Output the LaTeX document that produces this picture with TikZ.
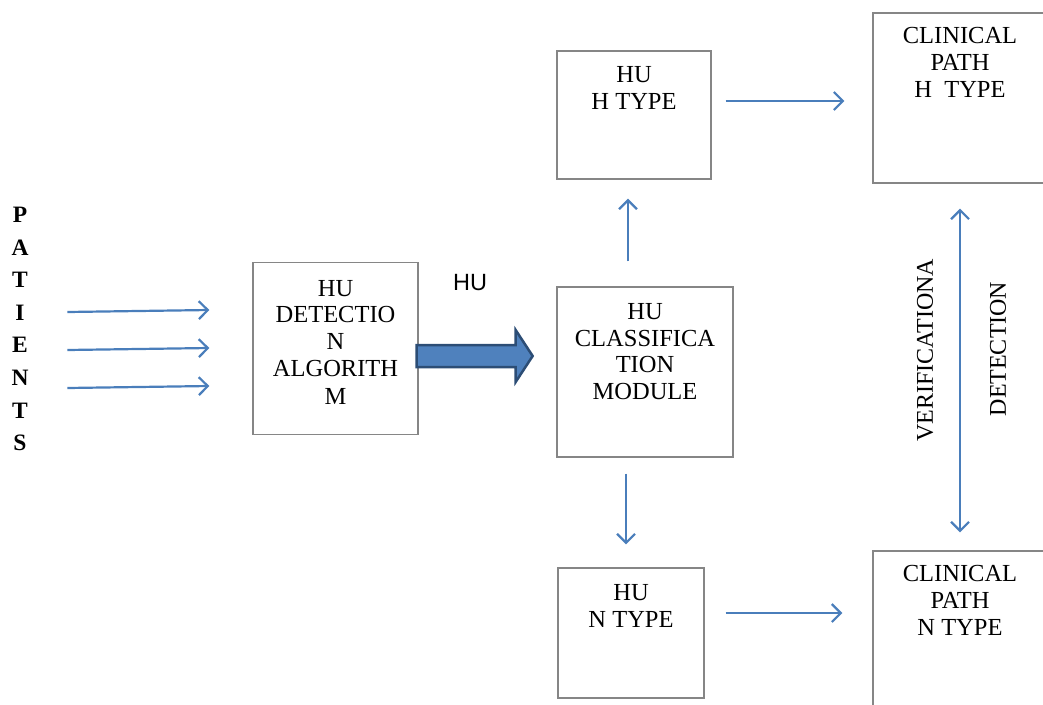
\documentclass[tikz,border=0pt]{standalone}
\usepackage{fontspec}
\setmainfont{Liberation Serif}
\newfontfamily\arialfont{Liberation Sans}
\usetikzlibrary{arrows.meta,calc}
\definecolor{flowblue}{HTML}{4A7EBB}
\definecolor{bigblue}{HTML}{4F81BD}
\definecolor{bigedge}{HTML}{2C4D75}

\begin{document}
\begin{tikzpicture}[x=1pt,y=-1pt,
	>={Straight Barb[length=9pt,width=18pt]},
	box/.style={draw=gray!95,line width=1.3pt,rectangle,inner sep=0},
	boxtext/.style={anchor=north,inner sep=0,align=center,font=\fontsize{24.5}{26.7}\selectfont},
	flow/.style={draw=flowblue,line width=2.2pt},
	bigarrow/.style={fill=bigblue,draw=bigedge,line width=2.5pt,line join=miter}]
\useasboundingbox (0,0) rectangle (1043,704);
\clip (0,0) rectangle (1043,704);

% boxes
\node[box,minimum width=165pt,minimum height=172pt] (det) at (335.5,348.5) {};
\node[box,minimum width=176pt,minimum height=170pt] (cls) at (645,372) {};
\node[box,minimum width=154pt,minimum height=128pt] (htype) at (634,115) {};
\node[box,minimum width=146pt,minimum height=130pt] (ntype) at (631,633) {};
\node[box,minimum width=174pt,minimum height=170pt] (clinh) at (960,98) {};
\node[box,minimum width=174pt,minimum height=178pt] (clinn) at (960,640) {};

\node[boxtext] (det-txt) at ([yshift=-18pt]det.north) {HU\\DETECTIO\\N\\ALGORITH\\[2pt]M};
\node[boxtext] (cls-txt) at ([yshift=-17pt]cls.north) {HU\\CLASSIFICA\\TION\\MODULE};
\node[boxtext] (htype-txt) at ([yshift=-16pt]htype.north) {HU\\H TYPE};
\node[boxtext] (ntype-txt) at ([yshift=-17pt]ntype.north) {HU\\N TYPE};
\node[boxtext] (clinh-txt) at ([yshift=-15pt]clinh.north) {CLINICAL\\PATH\\H\ \ TYPE};
\node[boxtext] (clinn-txt) at ([yshift=-15pt]clinn.north) {CLINICAL\\PATH\\N TYPE};

\node[align=center,inner sep=0,font=\fontsize{23.5}{32.6}\selectfont\bfseries] (pat) at (20,329) {P\\A\\T\\I\\E\\N\\T\\S};
\node[inner sep=0,font=\arialfont\fontsize{23.5}{26}\selectfont] (hu) at (470,283) {HU};
\node[rotate=90,inner sep=0,font=\fontsize{24}{26}\selectfont] (verif) at (925,350) {VERIFICATIONA};
\node[rotate=90,inner sep=0,font=\fontsize{24}{26}\selectfont] (detect) at (998,349) {DETECTION};

% arrows
\foreach \dy in {-36.5,1.5,39.5}
	\path[->] ($(det.west)+(-185,\dy)$) edge[flow] ($(det.west)+(-43,\dy-2)$);
\coordinate (bigstart) at ($(det.east)+(-2,7.5)$);
\draw[bigarrow,shift={(bigstart)}] (0,-11) -- (99,-11) -- (99,-26) -- (116,0) -- (99,26) -- (99,11) -- (0,11) -- cycle;
\path[->]
($(cls.north)+(-17,-25)$) edge[flow] ($(htype.south)+(-6,19)$)
($(cls.south)+(-19,16)$) edge[flow] ($(ntype.north)+(-5,-23)$)
($(htype.east)+(14,-14)$) edge[flow] ($(clinh.west)+(-28,3)$)
($(ntype.east)+(21,-20)$) edge[flow] ($(clinn.west)+(-30,-27)$)
;
\path[<->] ($(clinh.south)+(0,25)$) edge[flow] ($(clinn.north)+(0,-18)$);
\end{tikzpicture}
\end{document}
